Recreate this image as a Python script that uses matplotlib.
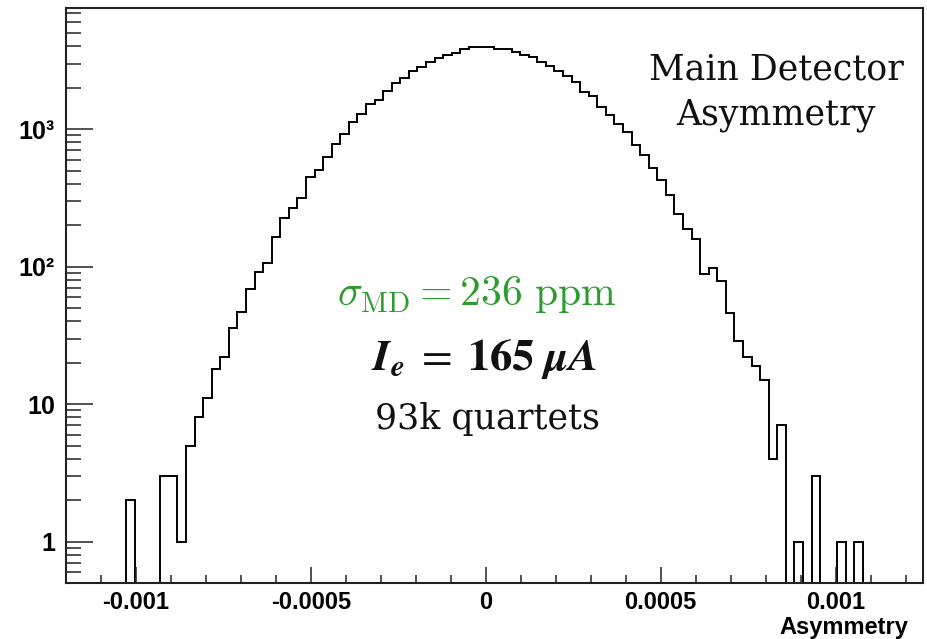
import numpy as np
import matplotlib
matplotlib.use("Agg")
import matplotlib.pyplot as plt
from matplotlib.ticker import FixedLocator, NullFormatter

# ---------------- data ----------------
x_min, x_max, n_bins = -0.0012, 0.00125, 100
counts = [
    0, 0, 0, 0, 0, 0, 0, 2, 0, 0,
    0, 3, 3, 1, 5, 8, 11, 18, 22, 36,
    47, 69, 92, 107, 163, 226, 268, 316, 451, 505,
    631, 773, 914, 1135, 1291, 1523, 1623, 1891, 2152, 2334,
    2654, 2826, 3075, 3300, 3460, 3600, 3800, 3950, 3950, 3950,
    3800, 3800, 3650, 3450, 3340, 3080, 2885, 2654, 2414, 2192,
    1869, 1751, 1445, 1274, 1085, 955, 764, 651, 521, 430,
    333, 242, 188, 160, 89, 97, 79, 46, 29, 22,
    19, 15, 4, 7, 0, 1, 0, 3, 0, 0,
    1, 0, 1, 0, 0, 0, 0, 0, 0, 0,
]
x_major = [-0.001, -0.0005, 0, 0.0005, 0.001]
x_major_labels = ["-0.001", "-0.0005", "0", "0.0005", "0.001"]
y_major = [1, 10, 100, 1000]
y_major_labels = ["1", "10", "10\u00b2", "10\u00b3"]
y_range = (0.5, 7600)
x_label = "Asymmetry"
title_lines = ["Main Detector", "Asymmetry"]
sigma_text = r"$\sigma_{\rm MD} = 236\ {\rm ppm}$"
current_text = r"$\mathbfit{I_e}\;=\;\mathbf{165}\ \mathbfit{\mu A}$"
quartets_text = "93k quartets"

# ---------------- figure ----------------
W, H = 928, 639
fig = plt.figure(figsize=(W / 100, H / 100), dpi=100)
ax = fig.add_axes([66 / W, 1 - 583 / H, (923 - 66) / W, (583 - 8) / H])

edges = np.linspace(x_min, x_max, n_bins + 1)
ax.set_yscale("log", nonpositive="clip")
ax.stairs(counts, edges, color="black", linewidth=1.4, baseline=1e-6)

ax.set_xlim(x_min, x_max)
ax.set_ylim(*y_range)

for s in ax.spines.values():
    s.set_linewidth(1.5)
    s.set_color("#222222")

tick_font = dict(family="Liberation Sans", weight="bold", size=17)

ax.xaxis.set_major_locator(FixedLocator(x_major))
ax.set_xticklabels(x_major_labels, fontdict=tick_font)
ax.xaxis.set_minor_locator(FixedLocator(np.arange(-12, 13) * 0.0001))
ax.xaxis.set_minor_formatter(NullFormatter())

ax.yaxis.set_major_locator(FixedLocator(y_major))
ax.set_yticklabels(y_major_labels, fontdict=dict(tick_font, size=18))
y_minor = [m * 10.0 ** e for e in range(-1, 4) for m in range(2, 10)]
ax.yaxis.set_minor_locator(FixedLocator(y_minor))
ax.yaxis.set_minor_formatter(NullFormatter())

ax.tick_params(axis="x", which="major", direction="in", length=11.5, width=1.1,
               pad=6, top=False, color="#222222")
ax.tick_params(axis="x", which="minor", direction="in", length=5.8, width=1.1,
               top=False, color="#222222")
ax.tick_params(axis="y", which="major", direction="in", length=19.5, width=1.1,
               pad=8, right=False, color="#222222")
ax.tick_params(axis="y", which="minor", direction="in", length=10.8, width=1.1,
               right=False, color="#222222")

fig.text(908 / W, 1 - 634 / H, x_label, ha="right", va="baseline",
         family="Liberation Sans", weight="bold", size=17)

fig.text(776 / W, 1 - 79 / H, title_lines[0], ha="center", va="baseline",
         family="DejaVu Serif", size=25, color="#111111")
fig.text(776 / W, 1 - 124 / H, title_lines[1], ha="center", va="baseline",
         family="DejaVu Serif", size=25, color="#111111")

fig.text(477 / W, 1 - 305 / H, sigma_text, ha="center", va="baseline",
         size=30, color="#2f9a2f", math_fontfamily="cm")
fig.text(484 / W, 1 - 370 / H, current_text, ha="center", va="baseline",
         size=32, color="#111111", math_fontfamily="stix")
fig.text(487 / W, 1 - 429 / H, quartets_text, ha="center", va="baseline",
         family="DejaVu Serif", size=25, color="#111111")

fig.savefig("out.png", dpi=100, facecolor="white")
